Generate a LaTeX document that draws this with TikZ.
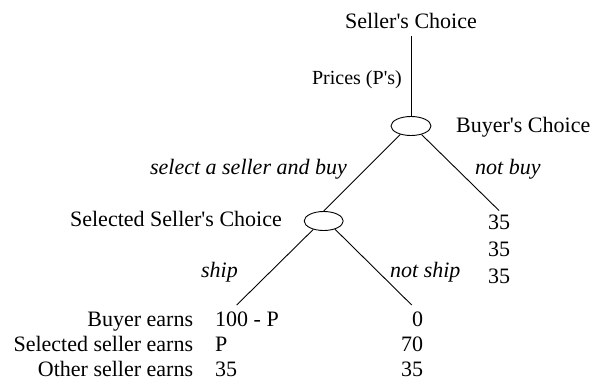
\documentclass[tikz,border=0pt]{standalone}
\usepackage{fontspec}
\setmainfont{Liberation Serif}
\usetikzlibrary{shapes.geometric}
\newcommand{\apos}{\textquotesingle}
\begin{document}
\begin{tikzpicture}[x=1pt,y=-1pt,
  txt/.style={inner sep=0pt, font=\fontsize{22}{26}\selectfont},
  itxt/.style={inner sep=0pt, font=\fontsize{22}{26}\selectfont\itshape},
  lbl/.style={inner sep=0pt, font=\fontsize{20}{24}\selectfont},
  chance/.style={draw, line width=0.9pt, ellipse, minimum width=40pt, minimum height=19pt, inner sep=0pt},
  edge/.style={line width=0.9pt}]
\useasboundingbox (0,0) rectangle (594,379);
% nodes
\node[txt, anchor=base] (sc) at (411,29) {Seller\apos s Choice};
\node[chance] (e1) at (411,126) {};
\node[lbl, anchor=base east] (pr) at (402,85) {Prices (P\apos s)};
\node[txt, anchor=base west] (bc) at (456,133) {Buyer\apos s Choice};
\node[chance, minimum width=39pt] (e2) at (323.7,221) {};
\node[txt, anchor=base east] (ssc) at (282,227) {Selected Seller\apos s Choice};
\node[itxt, anchor=base east] (sab) at (347,175) {select a seller and buy};
\node[itxt, anchor=base west] (nb) at (475,175) {not buy};
\node[itxt, anchor=base east] (sh) at (238,277) {ship};
\node[itxt, anchor=base west] (ns) at (390,277) {not ship};
\node[txt, anchor=base, inner ysep=4pt] (r1) at (499,229.3) {35};
\node[txt, anchor=base] (r2) at (499,256.7) {35};
\node[txt, anchor=base] (r3) at (499,283.3) {35};
\node[txt, anchor=base east] (be) at (193.3,326.5) {Buyer earns};
\node[txt, anchor=base east] (se) at (193.3,351.5) {Selected seller earns};
\node[txt, anchor=base east] (oe) at (193.3,376.5) {Other seller earns};
\node[txt, anchor=base west] (b1) at (215,326.5) {100 - P};
\node[txt, anchor=base west] (b2) at (215,351.5) {P};
\node[txt, anchor=base west] (b3) at (215,376.5) {35};
\node[txt, anchor=base east] (c1) at (423.3,326.5) {0};
\node[txt, anchor=base east] (c2) at (423.3,351.5) {70};
\node[txt, anchor=base east] (c3) at (423.3,376.5) {35};
\coordinate (shipEnd) at (236.7,305);
\coordinate (noshipEnd) at (411.7,305);
% connectors
\draw[edge, shorten <=7pt] (sc.south) -- (e1.north);
\draw[edge] (e1.-142) -- (e2.north);
\draw[edge] (e1.-39) -- (r1.north);
\draw[edge] (e2.-141) -- (shipEnd);
\draw[edge] (e2.-36) -- (noshipEnd);
\end{tikzpicture}
\end{document}
